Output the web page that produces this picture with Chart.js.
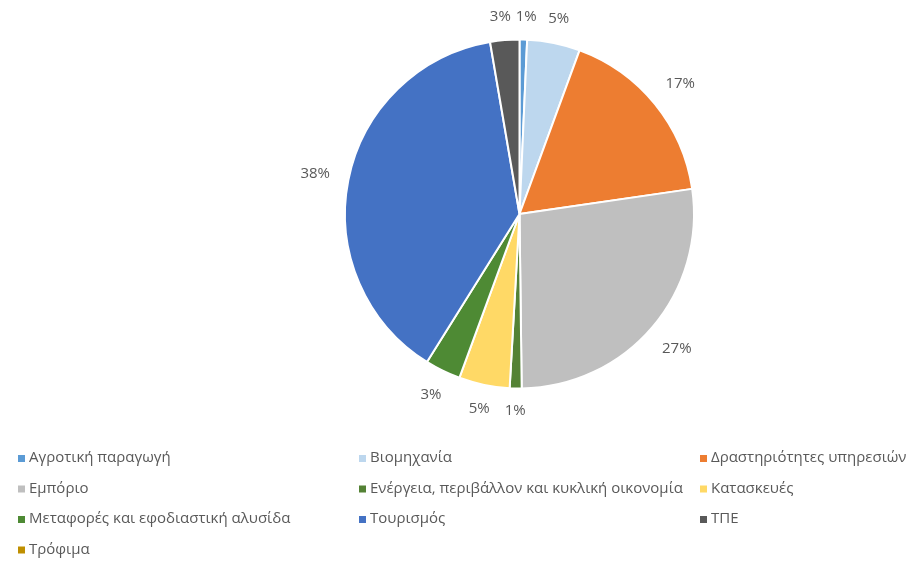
<!DOCTYPE html>
<html>
<head>
<meta charset="utf-8">
<script src="https://cdn.jsdelivr.net/npm/chart.js@4"></script>
<style>
  body { margin: 0; background: #fff; }
  #wrap { position: relative; width: 912px; height: 562px; }
</style>
</head>
<body>
<div id="wrap"><canvas id="pie" width="912" height="562"></canvas></div>
<script>
// Τομείς και μερίδια (%)
const sectors = [
    "Αγροτική παραγωγή", "Βιομηχανία", "Δραστηριότητες υπηρεσιών", "Εμπόριο",
    "Ενέργεια, περιβάλλον και κυκλική οικονομία", "Κατασκευές",
    "Μεταφορές και εφοδιαστική αλυσίδα", "Τουρισμός", "ΤΠΕ", "Τρόφιμα"
];
const shares = [0.7, 4.9, 17.1, 27.1, 1.1, 4.7, 3.3, 38.4, 2.7, 0];
const colors = [
    "#5B9BD5", "#BDD7EE", "#ED7D31", "#BFBFBF", "#548235",
    "#FFD966", "#4E8A34", "#4472C4", "#595959", "#BF8F00"
];

const FONT = "'Open Sans', 'Liberation Sans', sans-serif";

// Ετικέτες ποσοστών έξω από την πίτα
const outsideLabels = {
    id: "outsideLabels",
    afterDatasetsDraw(chart) {
        const ctx = chart.ctx;
        const meta = chart.getDatasetMeta(0);
        const total = shares.reduce((a, b) => a + b, 0);
        ctx.save();
        ctx.font = "15px " + FONT;
        ctx.fillStyle = "#595959";
        ctx.textAlign = "center";
        ctx.textBaseline = "middle";
        const items = [];
        meta.data.forEach((arc, i) => {
            if (!shares[i]) return;
            const p = arc.getProps(["x", "y", "startAngle", "endAngle", "outerRadius"], true);
            const mid = (p.startAngle + p.endAngle) / 2;
            const txt = Math.round(shares[i] / total * 100) + "%";
            const w = ctx.measureText(txt).width;
            const r = p.outerRadius + 18.5 + Math.abs(Math.cos(mid)) * w / 2 + Math.abs(Math.sin(mid)) * 4;
            items.push({ txt, w, x: p.x + Math.cos(mid) * r, y: p.y + Math.sin(mid) * r });
        });
        // ετικέτες που πέφτουν η μία πάνω στην άλλη -> σπρώξε τις στο πλάι
        for (let a = 0; a < items.length; a++) {
            for (let b = a + 1; b < items.length; b++) {
                const A = items[a], B = items[b];
                const need = (A.w + B.w) / 2 + 5;
                const dx = B.x - A.x;
                if (Math.abs(B.y - A.y) < 14 && Math.abs(dx) < need) {
                    const push = (need - Math.abs(dx)) / 2 * (dx >= 0 ? 1 : -1);
                    A.x -= push;
                    B.x += push;
                }
            }
        }
        items.forEach(it => ctx.fillText(it.txt, it.x, it.y));
        ctx.restore();
    }
};

// Υπόμνημα σε τρεις στήλες
const gridLegend = {
    id: "gridLegend",
    afterDraw(chart) {
        const ctx = chart.ctx;
        const cols = [18, 359, 700];
        const rows = [458, 488.5, 519, 549.5];
        ctx.save();
        ctx.font = "15px " + FONT;
        ctx.textBaseline = "middle";
        sectors.forEach((name, i) => {
            const x = cols[i % 3];
            const y = rows[Math.floor(i / 3)];
            ctx.fillStyle = colors[i];
            ctx.fillRect(x, y - 3, 7, 7);
            ctx.fillStyle = "#595959";
            ctx.fillText(name, x + 11, y);
        });
        ctx.restore();
    }
};

new Chart(document.getElementById("pie"), {
    type: "pie",
    data: {
        labels: sectors,
        datasets: [{
            data: shares,
            backgroundColor: colors,
            borderColor: "#ffffff",
            borderWidth: 2,
        }],
    },
    options: {
        responsive: false,
        animation: false,
        layout: { padding: { top: 38.5, bottom: 172.5, left: 227, right: 100 } },
        plugins: {
            legend: { display: false },
            tooltip: { enabled: false },
        },
    },
    plugins: [outsideLabels, gridLegend],
});
</script>
</body>
</html>
